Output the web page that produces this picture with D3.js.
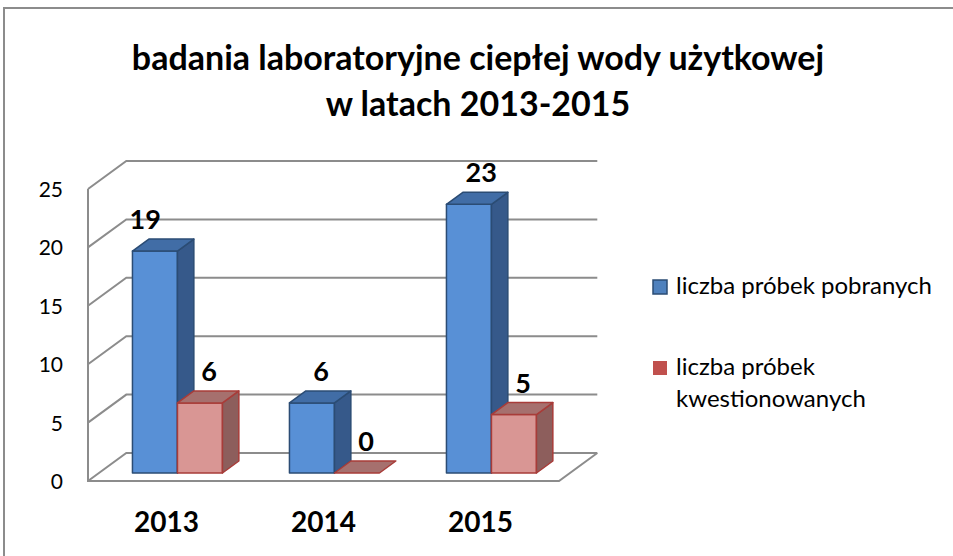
<!DOCTYPE html>
<html>
<head>
<meta charset="utf-8">
<script src="https://cdnjs.cloudflare.com/ajax/libs/d3/7.8.5/d3.min.js"></script>
<style>
  body { margin: 0; background: #fff; }
  text { font-family: Lato, "Open Sans", sans-serif; fill: #000; }
</style>
</head>
<body>
<div id="chart"></div>
<script>
const years = ["2013", "2014", "2015"];
const seriesNames = ["liczba próbek pobranych", "liczba próbek kwestionowanych"];
const pobrane = [19, 6, 23];
const kwestionowane = [6, 0, 5];
const yTicks = [0, 5, 10, 15, 20, 25];
const titleLines = ["badania laboratoryjne ciepłej wody użytkowej", "w latach 2013-2015"];

const width = 953, height = 556;

// front plane of the 3d box and the depth vector pointing to the back wall
const front = { left: 88, right: 559, bottom: 481, top: 189 };
const depth = { dx: 38.3, dy: -28 };
const barDepth = [0.286, 0.714];

const colors = [
    { front: "#5890d6", side: "#36598a", top: "#416da6", stroke: "#2b4c74", legend: "#4f81bd", legendStroke: "#2b4c74" },
    { front: "#d99694", side: "#8d5e5c", top: "#a6706e", stroke: "#a83c39", legend: "#c0504d", legendStroke: "none" }
];

const svg = d3.select("#chart")
    .append("svg")
    .attr("width", width)
    .attr("height", height);

// outer chart border (runs off the right and bottom edge)
svg.append("rect")
    .attr("x", 4).attr("y", 8)
    .attr("width", width + 10).attr("height", height + 10)
    .attr("fill", "none")
    .attr("stroke", "#8c8c8c")
    .attr("stroke-width", 2);

const y = d3.scaleLinear().domain([0, 25]).range([front.bottom, front.top]);
const x0 = d3.scaleBand().domain(years).range([front.left, front.right]);
const x1 = d3.scaleBand().domain([0, 1]).range([33.5, 123.5]);

// title
const title = svg.append("g");
titleLines.forEach((t, i) => {
    title.append("text")
        .attr("x", 478)
        .attr("y", 70 + i * 46)
        .attr("text-anchor", "middle")
        .attr("font-weight", "bold")
        .attr("font-size", 34)
        .text(t);
});

// walls and gridlines
const grid = svg.append("g")
    .attr("fill", "none")
    .attr("stroke", "#8c8c8c")
    .attr("stroke-width", 2);

yTicks.forEach(v => {
    const yy = y(v);
    grid.append("path")
        .attr("d", `M${front.left},${yy}L${front.left + depth.dx},${yy + depth.dy}L${front.right + depth.dx},${yy + depth.dy}`);
});
grid.append("path")
    .attr("d", `M${front.left},${y(25)}V${y(0)}H${front.right}L${front.right + depth.dx},${y(0) + depth.dy}`);

svg.append("g")
    .selectAll("text")
    .data(yTicks)
    .enter()
    .append("text")
    .attr("x", 63)
    .attr("y", d => y(d) + 8)
    .attr("text-anchor", "end")
    .attr("font-size", 21)
    .text(d => d);

// 3d bars
const bars = [];
years.forEach((yr, i) => {
    [pobrane[i], kwestionowane[i]].forEach((v, s) => {
        bars.push({ year: yr, s: s, value: v });
    });
});

const shift = t => ({ dx: depth.dx * t, dy: depth.dy * t });
const f = shift(barDepth[0]), b = shift(barDepth[1]);

const barG = svg.append("g");
bars.forEach(d => {
    const c = colors[d.s];
    const xl = x0(d.year) + x1(d.s);
    const xr = xl + x1.bandwidth();
    const yt = y(d.value), yb = y(0);
    const g = barG.append("g")
        .attr("stroke", c.stroke)
        .attr("stroke-width", 1.5)
        .attr("stroke-linejoin", "round");
    const pt = (px, py, o) => `${px + o.dx},${py + o.dy}`;
    if (d.value > 0) {
        g.append("polygon")
            .attr("points", [pt(xl, yb, f), pt(xr, yb, f), pt(xr, yt, f), pt(xl, yt, f)].join(" "))
            .attr("fill", c.front);
        g.append("polygon")
            .attr("points", [pt(xr, yb, f), pt(xr, yb, b), pt(xr, yt, b), pt(xr, yt, f)].join(" "))
            .attr("fill", c.side);
    }
    g.append("polygon")
        .attr("points", [pt(xl, yt, f), pt(xr, yt, f), pt(xr, yt, b), pt(xl, yt, b)].join(" "))
        .attr("fill", c.top);
});

// value labels (the first one sits a bit left in the original)
const nudge = { "2013-0": -19, "2015-0": 3 };
svg.append("g")
    .selectAll("text")
    .data(bars)
    .enter()
    .append("text")
    .attr("x", d => x0(d.year) + x1(d.s) + x1.bandwidth() / 2 + depth.dx / 2 + 1 + (nudge[d.year + "-" + d.s] || 0))
    .attr("y", d => y(d.value) + b.dy - 10)
    .attr("text-anchor", "middle")
    .attr("font-weight", "bold")
    .attr("font-size", 27)
    .text(d => d.value);

// category labels
svg.append("g")
    .selectAll("text")
    .data(years)
    .enter()
    .append("text")
    .attr("x", d => x0(d) + x0.bandwidth() / 2)
    .attr("y", 532)
    .attr("text-anchor", "middle")
    .attr("font-weight", "bold")
    .attr("font-size", 28)
    .text(d => d);

// legend
const legend = svg.append("g");
const legendLines = [["liczba próbek pobranych"], ["liczba próbek", "kwestionowanych"]];
const legendY = [294, 375];
seriesNames.forEach((name, i) => {
    legend.append("rect")
        .attr("x", 653).attr("y", legendY[i] - 14)
        .attr("width", 14).attr("height", 14)
        .attr("fill", colors[i].legend)
        .attr("stroke", colors[i].legendStroke)
        .attr("stroke-width", 1.5);
    legendLines[i].forEach((line, j) => {
        legend.append("text")
            .attr("x", 676)
            .attr("y", legendY[i] + j * 32)
            .attr("font-size", 24)
            .text(line);
    });
});
</script>
</body>
</html>
